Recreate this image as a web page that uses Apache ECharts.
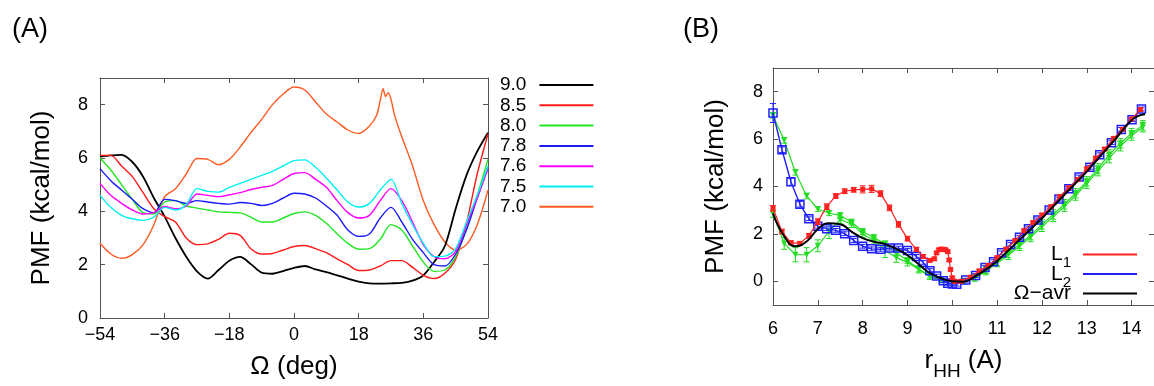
<!DOCTYPE html>
<html>
<head>
<meta charset="utf-8">
<script src="https://cdn.jsdelivr.net/npm/echarts@6/dist/echarts.min.js"></script>
<style>
  html, body { margin: 0; padding: 0; background: #fff; }
  #chart { width: 1154px; height: 386px; }
</style>
</head>
<body>
<div id="chart"></div>
<script>
// ---- Panel A: PMF vs Omega for several r_HH values ----
const omega = [-54, -51, -48, -45, -42, -39, -36, -33, -30, -27, -24, -21, -18, -15, -12, -9, -6, -3, 0,
  3, 6, 9, 12, 15, 18, 21, 24, 27, 30, 33, 36, 39, 42, 45, 48, 51, 54];
const pmf90 = [6.05, 6.1, 6.12, 5.85, 5.3, 4.5, 3.8, 3.0, 2.3, 1.75, 1.48, 1.8, 2.15, 2.29, 2.02, 1.7, 1.66, 1.76, 1.88,
  1.95, 1.82, 1.72, 1.6, 1.48, 1.36, 1.3, 1.29, 1.3, 1.32, 1.4, 1.6, 2.1, 2.7, 4.1, 5.35, 6.25, 6.95];
const pmf85 = [6.1, 6.1, 5.7, 5.3, 4.7, 4.1, 3.8, 3.6, 3.0, 2.75, 2.78, 2.95, 3.18, 3.1, 2.6, 2.4, 2.42, 2.55, 2.68,
  2.72, 2.6, 2.45, 2.22, 2.0, 1.78, 1.8, 1.95, 2.15, 2.15, 1.9, 1.6, 1.48, 1.68, 2.2, 3.55, 5.4, 6.9];
const pmf80 = [6.0, 5.55, 5.0, 4.45, 3.95, 3.9, 4.35, 4.4, 4.2, 4.12, 4.05, 3.98, 3.96, 3.94, 3.78, 3.6, 3.6, 3.75, 3.92,
  3.98, 3.85, 3.55, 3.16, 2.8, 2.58, 2.6, 2.95, 3.5, 3.3, 2.7, 2.1, 1.75, 1.8, 2.3, 3.35, 4.6, 5.95];
const pmf78 = [5.6, 5.15, 4.8, 4.45, 4.1, 3.95, 4.45, 4.4, 4.3, 4.4, 4.35, 4.3, 4.27, 4.33, 4.3, 4.22, 4.3, 4.5, 4.68,
  4.65, 4.5, 4.2, 3.85, 3.3, 3.06, 3.15, 3.75, 4.15, 3.6, 2.95, 2.45, 2.0, 1.95, 2.4, 3.3, 4.5, 5.68];
const pmf76 = [5.05, 4.6, 4.3, 4.05, 3.9, 3.95, 4.18, 4.1, 4.2, 4.65, 4.6, 4.55, 4.62, 4.7, 4.82, 4.9, 4.97, 5.2, 5.42,
  5.45, 5.2, 4.9, 4.4, 3.95, 3.75, 3.85, 4.4, 4.85, 4.4, 3.6, 2.75, 2.3, 2.22, 2.5, 3.5, 4.5, 5.6];
const pmf75 = [4.6, 4.15, 3.85, 3.72, 3.66, 3.78, 4.15, 4.05, 4.25, 4.85, 4.75, 4.72, 4.9, 5.05, 5.2, 5.35, 5.5, 5.7, 5.9,
  5.93, 5.65, 5.25, 4.8, 4.35, 4.16, 4.3, 4.8, 5.2, 4.3, 3.5, 2.8, 2.3, 2.32, 2.6, 3.6, 4.6, 5.7];
const omega70 = [-54, -51, -48, -45, -42, -39, -36, -33, -30, -27, -24, -21, -18, -15, -12, -9, -6, -3, 0,
  3, 6, 9, 12, 15, 18, 21, 23, 24, 24.8, 25.5, 26.2, 27, 28, 30, 33, 36, 39, 42, 45, 48, 51, 54];
const pmf70 = [2.8, 2.4, 2.24, 2.38, 2.75, 3.5, 4.55, 4.85, 5.4, 5.98, 5.95, 5.75, 5.95, 6.41, 6.95, 7.45, 8.0, 8.4, 8.66,
  8.55, 8.1, 7.65, 7.35, 7.05, 6.92, 7.2, 7.6, 8.15, 8.6, 8.3, 8.45, 8.2, 7.6, 6.8, 5.7, 4.4, 3.5, 2.85, 2.55, 2.75, 3.5, 4.8];
const omegaTicks = [-54, -36, -18, 0, 18, 36, 54];
const pmfTicksA = [0, 2, 4, 6, 8];

// ---- Panel B: PMF vs r_HH ----
const rL1 = [6.0, 6.2, 6.4, 6.6, 6.8, 7.0, 7.2, 7.4, 7.6, 7.8, 8.0, 8.2, 8.4, 8.6, 8.8, 9.0, 9.2, 9.35, 9.5, 9.6,
  9.65, 9.7, 9.75, 9.8, 9.85, 9.9, 9.93, 9.96, 10.0, 10.05, 10.2, 10.4, 10.6, 10.8, 11.0, 11.2, 11.4, 11.6, 11.8,
  12.0, 12.2, 12.4, 12.6, 12.8, 13.0, 13.2, 13.4, 13.6, 13.8, 14.0, 14.2];
const pmfL1 = [3.08, 2.1, 1.63, 1.6, 1.92, 2.52, 3.15, 3.6, 3.8, 3.86, 3.88, 3.9, 3.7, 3.1, 2.4, 1.8, 1.35, 1.05, 0.88, 0.95,
  1.2, 1.33, 1.36, 1.35, 1.33, 1.25, 0.9, 0.5, 0.15, 0.0, 0.0, 0.17, 0.44, 0.66, 1.0, 1.36, 1.72, 2.14, 2.48,
  2.8, 3.15, 3.58, 3.95, 4.3, 4.75, 5.2, 5.58, 6.03, 6.41, 6.85, 7.25];
const errL1 = [0.12, 0.1, 0.08, 0.08, 0.1, 0.12, 0.12, 0.1, 0.1, 0.1, 0.15, 0.15, 0.12, 0.12, 0.12, 0.1, 0.08, 0.08, 0.06, 0.06,
  0.06, 0.06, 0.06, 0.06, 0.06, 0.06, 0.06, 0.06, 0.06, 0.06, 0.06, 0.06, 0.06, 0.06, 0.06, 0.06, 0.06, 0.06, 0.06,
  0.06, 0.06, 0.06, 0.06, 0.06, 0.06, 0.06, 0.06, 0.06, 0.06, 0.06, 0.06];

const rL2 = [6.0, 6.2, 6.4, 6.6, 6.8, 7.0, 7.2, 7.4, 7.6, 7.8, 8.0, 8.2, 8.4, 8.6, 8.8, 9.0, 9.2, 9.35, 9.5, 9.65,
  9.8, 9.9, 10.0, 10.1, 10.3, 10.52, 10.73, 10.92, 11.1, 11.3, 11.5, 11.7, 11.91, 12.16, 12.38, 12.6, 12.83,
  13.07, 13.29, 13.55, 13.77, 14.01, 14.22];
const pmfL2 = [7.1, 5.55, 4.2, 3.25, 2.64, 2.32, 2.22, 2.15, 2.01, 1.72, 1.48, 1.37, 1.35, 1.4, 1.4, 1.3, 1.05, 0.8, 0.45, 0.22,
  0.02, -0.08, -0.11, -0.12, 0.05, 0.24, 0.58, 0.83, 1.2, 1.55, 1.86, 2.22, 2.59, 3.01, 3.47, 3.91, 4.4,
  4.81, 5.34, 5.85, 6.41, 6.82, 7.27];
const errL2 = [0.4, 0.12, 0.15, 0.12, 0.08, 0.08, 0.08, 0.08, 0.08, 0.08, 0.08, 0.08, 0.08, 0.08, 0.08, 0.08, 0.08, 0.08, 0.08, 0.08,
  0.08, 0.08, 0.08, 0.08, 0.08, 0.08, 0.08, 0.08, 0.08, 0.08, 0.08, 0.08, 0.08, 0.08, 0.08, 0.08, 0.08,
  0.08, 0.08, 0.08, 0.08, 0.08, 0.08];

const rGreen = [6.0, 6.25, 6.5, 6.75, 7.0, 7.25, 7.5, 7.75, 8.0, 8.25, 8.5, 8.75, 9.0, 9.25, 9.5, 9.75, 10.0,
  10.25, 10.5, 10.75, 11.0, 11.25, 11.5, 11.75, 12.0, 12.25, 12.5, 12.75, 13.0, 13.25, 13.5, 13.75, 14.0, 14.25];
const pmfGreenA = [7.0, 5.95, 4.6, 3.6, 3.05, 2.87, 2.78, 2.5, 2.1, 1.85, 1.58, 1.2, 0.88, 0.52, 0.24, 0.1, 0.0,
  0.0, 0.18, 0.48, 0.82, 1.18, 1.56, 1.95, 2.4, 2.82, 3.25, 3.72, 4.22, 4.76, 5.35, 5.82, 6.25, 6.58];
const errGreenA = [0.12, 0.12, 0.12, 0.12, 0.1, 0.1, 0.12, 0.12, 0.12, 0.12, 0.12, 0.12, 0.12, 0.12, 0.1, 0.1, 0.1,
  0.1, 0.12, 0.15, 0.15, 0.18, 0.18, 0.2, 0.2, 0.2, 0.2, 0.2, 0.2, 0.2, 0.2, 0.2, 0.2, 0.2];
const pmfGreenB = [2.85, 1.6, 1.12, 1.12, 1.5, 2.1, 2.6, 2.42, 2.0, 1.72, 1.3, 1.0, 0.8, 0.5, 0.2, 0.05, -0.02,
  -0.02, 0.12, 0.42, 0.76, 1.1, 1.48, 1.87, 2.3, 2.72, 3.15, 3.62, 4.12, 4.65, 5.2, 5.7, 6.15, 6.5];
const errGreenB = [0.15, 0.25, 0.3, 0.3, 0.25, 0.3, 0.15, 0.15, 0.15, 0.15, 0.3, 0.2, 0.15, 0.15, 0.12, 0.1, 0.1,
  0.1, 0.12, 0.15, 0.15, 0.18, 0.18, 0.2, 0.2, 0.2, 0.2, 0.2, 0.2, 0.2, 0.2, 0.2, 0.2, 0.2];

const rAvr = [6.0, 6.25, 6.5, 6.75, 7.0, 7.25, 7.5, 7.75, 8.0, 8.25, 8.5, 8.75, 9.0, 9.25, 9.5, 9.75, 10.0,
  10.25, 10.5, 10.75, 11.0, 11.25, 11.5, 11.75, 12.0, 12.25, 12.5, 12.75, 13.0, 13.25, 13.5, 13.75, 14.0, 14.15, 14.3];
const pmfAvr = [2.87, 1.9, 1.48, 1.68, 2.2, 2.45, 2.41, 2.1, 1.82, 1.67, 1.57, 1.37, 1.1, 0.72, 0.35, 0.13, 0.0,
  -0.02, 0.2, 0.5, 0.86, 1.3, 1.75, 2.2, 2.66, 3.15, 3.65, 4.14, 4.63, 5.17, 5.7, 6.25, 6.8, 6.98, 7.05];
const rTicks = [6, 7, 8, 9, 10, 11, 12, 13, 14];
const pmfTicksB = [0, 2, 4, 6, 8];

const FONT = '"Liberation Sans", Arial, Helvetica, sans-serif';
const AXIS_COLOR = '#555';

const zip = (xs, ys) => xs.map((x, i) => [x, ys[i]]);
const zip3 = (xs, ys, es) => xs.map((x, i) => [x, ys[i], es[i]]);

function axisBase(extra) {
  return Object.assign({
    type: 'value',
    axisLine: { show: true, onZero: false, lineStyle: { color: AXIS_COLOR, width: 1 } },
    splitLine: { show: false },
  }, extra);
}

function ticks(values) {
  return { show: true, inside: true, length: 5, lineStyle: { color: AXIS_COLOR }, customValues: values };
}

function fmtMinus(v) {
  return v < 0 ? '\u2212' + Math.abs(v) : String(v);
}

// vertical error bars with small caps
function errorBars(color) {
  return function (params, api) {
    const x = api.value(0), y = api.value(1), e = api.value(2);
    const hi = api.coord([x, y + e]);
    const lo = api.coord([x, y - e]);
    const cap = 3;
    const st = { stroke: color, lineWidth: 1 };
    return {
      type: 'group',
      children: [
        { type: 'line', shape: { x1: hi[0], y1: hi[1], x2: lo[0], y2: lo[1] }, style: st },
        { type: 'line', shape: { x1: hi[0] - cap, y1: hi[1], x2: hi[0] + cap, y2: hi[1] }, style: st },
        { type: 'line', shape: { x1: lo[0] - cap, y1: lo[1], x2: lo[0] + cap, y2: lo[1] }, style: st },
      ],
    };
  };
}

const panelA = [
  { name: '9.0', data: pmf90, color: '#000000', width: 1.8 },
  { name: '8.5', data: pmf85, color: '#ff1a1a', width: 1.4 },
  { name: '8.0', data: pmf80, color: '#22e622', width: 1.4 },
  { name: '7.8', data: pmf78, color: '#1a1aff', width: 1.4 },
  { name: '7.6', data: pmf76, color: '#ff00ff', width: 1.4 },
  { name: '7.5', data: pmf75, color: '#00f0f0', width: 1.4 },
];

const seriesA = panelA.map((s) => ({
  name: s.name,
  type: 'line',
  xAxisIndex: 0,
  yAxisIndex: 0,
  data: zip(omega, s.data),
  showSymbol: false,
  smooth: 0.3,
  lineStyle: { color: s.color, width: s.width },
  itemStyle: { color: s.color },
  z: 3,
}));
seriesA.push({
  name: '7.0',
  type: 'line',
  xAxisIndex: 0,
  yAxisIndex: 0,
  data: zip(omega70, pmf70),
  showSymbol: false,
  smooth: 0.3,
  lineStyle: { color: '#ff5a1f', width: 1.4 },
  itemStyle: { color: '#ff5a1f' },
  z: 2,
});

const RED = '#ff2020', BLUE = '#2020ff', GREEN = '#22dd22';

const seriesB = [
  {
    name: 'G1', type: 'line', xAxisIndex: 2, yAxisIndex: 2,
    data: zip(rGreen, pmfGreenA), symbol: 'triangle', symbolRotate: 180, symbolSize: 6,
    lineStyle: { color: GREEN, width: 1.2 }, itemStyle: { color: GREEN }, z: 2,
  },
  { name: 'G1 err', type: 'custom', xAxisIndex: 2, yAxisIndex: 2,
    data: zip3(rGreen, pmfGreenA, errGreenA), renderItem: errorBars(GREEN), z: 2 },
  {
    name: 'G2', type: 'line', xAxisIndex: 2, yAxisIndex: 2,
    data: zip(rGreen, pmfGreenB), symbol: 'triangle', symbolRotate: 180, symbolSize: 6,
    lineStyle: { color: GREEN, width: 1.2 }, itemStyle: { color: GREEN }, z: 2,
  },
  { name: 'G2 err', type: 'custom', xAxisIndex: 2, yAxisIndex: 2,
    data: zip3(rGreen, pmfGreenB, errGreenB), renderItem: errorBars(GREEN), z: 2 },
  {
    name: 'L2', type: 'line', xAxisIndex: 2, yAxisIndex: 2,
    data: zip(rL2, pmfL2), symbol: 'rect', symbolSize: 8,
    lineStyle: { color: BLUE, width: 1.4 },
    itemStyle: { color: 'rgba(255,255,255,0)', borderColor: BLUE, borderWidth: 1.5 }, z: 3,
  },
  { name: 'L2 err', type: 'custom', xAxisIndex: 2, yAxisIndex: 2,
    data: zip3(rL2, pmfL2, errL2), renderItem: errorBars(BLUE), z: 3 },
  {
    name: 'L1', type: 'line', xAxisIndex: 2, yAxisIndex: 2,
    data: zip(rL1, pmfL1), symbol: 'rect', symbolSize: 5,
    lineStyle: { color: RED, width: 1.2 }, itemStyle: { color: RED }, z: 4,
  },
  { name: 'L1 err', type: 'custom', xAxisIndex: 2, yAxisIndex: 2,
    data: zip3(rL1, pmfL1, errL1), renderItem: errorBars(RED), z: 4 },
  {
    name: '\u03a9\u2212avr', type: 'line', xAxisIndex: 2, yAxisIndex: 2,
    data: zip(rAvr, pmfAvr), showSymbol: false, smooth: true,
    lineStyle: { color: '#000', width: 2 }, itemStyle: { color: '#000' }, z: 5,
  },
];

const chart = echarts.init(document.getElementById('chart'));
chart.setOption({
  animation: false,
  backgroundColor: '#fff',
  textStyle: { fontFamily: FONT },
  title: [
    { text: '(A)', left: 12, top: 16, padding: 0,
      textStyle: { fontSize: 27, fontWeight: 'normal', color: '#000', fontFamily: FONT } },
    { text: '(B)', left: 683, top: 16, padding: 0,
      textStyle: { fontSize: 27, fontWeight: 'normal', color: '#000', fontFamily: FONT } },
  ],
  grid: [
    { left: 100, top: 78, width: 388, height: 240, containLabel: false },
    { left: 773, top: 68, width: 391, height: 240, containLabel: false },
  ],
  legend: [
    {
      data: ['9.0', '8.5', '8.0', '7.8', '7.6', '7.5', '7.0'],
      orient: 'vertical', left: 500, top: 75, padding: 0,
      align: 'right', icon: 'rect', itemWidth: 54, itemHeight: 2, itemGap: 0.3,
      selectedMode: false,
      textStyle: { fontSize: 19, lineHeight: 20, color: '#000', fontFamily: FONT, padding: [0, 8, 0, 0] },
    },
    {
      data: [
        { name: 'L1', itemStyle: { color: RED, borderWidth: 0 } },
        { name: 'L2', itemStyle: { color: BLUE, borderWidth: 0 } },
        { name: '\u03a9\u2212avr', itemStyle: { color: '#000', borderWidth: 0 } },
      ],
      orient: 'vertical', right: 17, top: 244, padding: 0,
      align: 'right', icon: 'rect', itemWidth: 54, itemHeight: 2, itemGap: -7,
      selectedMode: false,
      formatter: (name) => {
        if (name === 'L1') return '{i|L}{s|1}';
        if (name === 'L2') return '{i|L}{s|2}';
        return '{i|' + name + '}';
      },
      textStyle: {
        color: '#000', fontFamily: FONT, padding: [0, 7, 0, 0],
        rich: {
          i: { fontSize: 21, lineHeight: 32, verticalAlign: 'middle', fontFamily: FONT, color: '#000' },
          s: { fontSize: 15, lineHeight: 20, verticalAlign: 'bottom', fontFamily: FONT, color: '#000' },
        },
      },
    },
  ],
  xAxis: [
    axisBase({
      gridIndex: 0, position: 'bottom', min: -54, max: 54,
      axisTick: ticks(omegaTicks),
      axisLabel: { color: '#000', fontSize: 18, fontFamily: FONT, margin: 8, customValues: omegaTicks, formatter: fmtMinus },
      name: '\u03a9 (deg)', nameLocation: 'middle', nameGap: 36,
      nameTextStyle: { fontSize: 26, color: '#000', fontFamily: FONT },
    }),
    axisBase({
      gridIndex: 0, position: 'top', min: -54, max: 54,
      axisTick: ticks(omegaTicks),
      axisLabel: { show: false },
    }),
    axisBase({
      gridIndex: 1, position: 'bottom', min: 6, max: 14.5,
      axisTick: ticks(rTicks),
      axisLabel: { color: '#000', fontSize: 18, fontFamily: FONT, margin: 15, customValues: rTicks },
      name: '{i|r}{s|HH}{i| (A)}', nameLocation: 'middle', nameGap: 36,
      nameTextStyle: {
        color: '#000', fontFamily: FONT,
        rich: {
          i: { fontSize: 26, lineHeight: 40, verticalAlign: 'middle', fontFamily: FONT, color: '#000' },
          s: { fontSize: 19, lineHeight: 26, verticalAlign: 'bottom', fontFamily: FONT, color: '#000' },
        },
      },
    }),
    axisBase({
      gridIndex: 1, position: 'top', min: 6, max: 14.5,
      axisTick: ticks(rTicks),
      axisLabel: { show: false },
    }),
  ],
  yAxis: [
    axisBase({
      gridIndex: 0, position: 'left', min: 0, max: 9,
      axisTick: ticks(pmfTicksA),
      axisLabel: { color: '#000', fontSize: 18, fontFamily: FONT, margin: 12, customValues: pmfTicksA },
      name: 'PMF (kcal/mol)', nameLocation: 'middle', nameGap: 45, nameRotate: 90,
      nameTextStyle: { fontSize: 26, color: '#000', fontFamily: FONT },
    }),
    axisBase({
      gridIndex: 0, position: 'right', min: 0, max: 9,
      axisTick: ticks(pmfTicksA),
      axisLabel: { show: false },
    }),
    axisBase({
      gridIndex: 1, position: 'left', min: -1, max: 9,
      axisTick: ticks(pmfTicksB),
      axisLabel: { color: '#000', fontSize: 18, fontFamily: FONT, margin: 10, customValues: pmfTicksB },
      name: 'PMF (kcal/mol)', nameLocation: 'middle', nameGap: 44, nameRotate: 90,
      nameTextStyle: { fontSize: 26, color: '#000', fontFamily: FONT },
    }),
    axisBase({
      gridIndex: 1, position: 'right', min: -1, max: 9,
      axisTick: ticks(pmfTicksB),
      axisLabel: { show: false },
    }),
  ],
  series: seriesA.concat(seriesB),
});
</script>
</body>
</html>
